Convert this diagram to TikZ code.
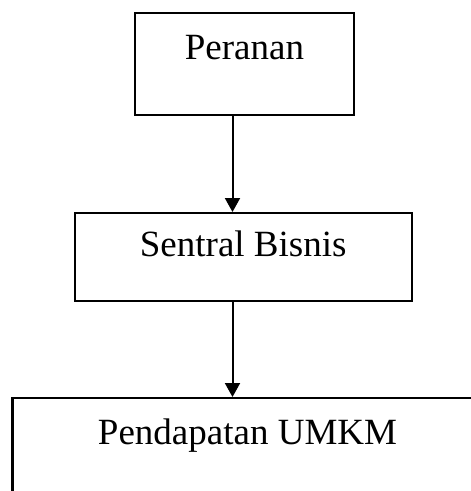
\documentclass[tikz,border=0pt]{standalone}
\usepackage{fontspec}
\setmainfont{Liberation Serif}
\usetikzlibrary{arrows.meta}

\begin{document}
\begin{tikzpicture}[
    x=1pt,y=-1pt,
    >={Triangle[length=14pt,width=15pt]},
    flow/.style={->,draw=black,line width=2pt},
    box/.style={rectangle,draw=black,line width=2.2pt,inner sep=0pt,
      font=\fontsize{37}{44}\selectfont,anchor=north}
  ]
    \path[use as bounding box,clip] (0,0) rectangle (471,491);

    \node[box,minimum width=219pt,text height=46pt,text depth=56pt]
      (peranan) at (244.5,12) {Peranan};
    \node[box,minimum width=337pt,text height=43pt,text depth=45pt]
      (sentral) at (243.2,212) {Sentral Bisnis};
    \node[box,minimum width=470pt,text height=46pt,text depth=140pt]
      (umkm) at (247.5,397) {Pendapatan UMKM};

    \coordinate (axis) at (232.5,0);
    \draw[flow] (peranan.south -| axis) -- (sentral.north -| axis);
    \draw[flow] (sentral.south -| axis) -- (umkm.north -| axis);
\end{tikzpicture}
\end{document}
